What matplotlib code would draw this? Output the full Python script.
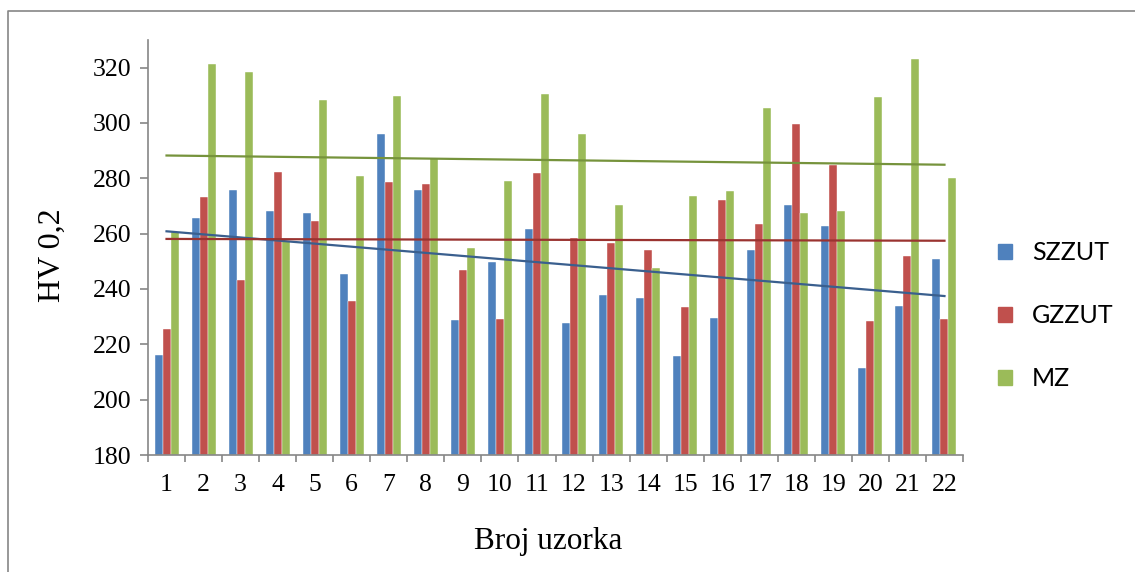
import numpy as np
import matplotlib.pyplot as plt
from matplotlib.lines import Line2D

# sample numbers and hardness values (HV 0,2)
samples = list(range(1, 23))
szzut = [216.2, 265.8, 275.8, 268.1, 267.5, 245.5, 295.9, 275.8, 228.9, 249.6, 261.7,
         227.8, 237.7, 236.7, 215.7, 229.6, 254.0, 270.2, 262.9, 211.3, 234.0, 250.7]
gzzut = [225.6, 273.1, 243.1, 282.4, 264.4, 235.8, 278.7, 277.8, 247.0, 229.1, 281.9,
         258.3, 256.8, 254.0, 233.4, 272.2, 263.5, 299.7, 284.8, 228.6, 251.8, 229.0]
mz = [260.6, 321.3, 318.3, 257.4, 308.3, 281.0, 309.8, 287.2, 254.7, 278.9, 310.6,
      295.9, 270.2, 247.5, 273.5, 275.6, 305.6, 267.4, 268.1, 309.5, 323.3, 280.2]

series = [("SZZUT", szzut, "#4F81BD", "#3A5F8E"),
          ("GZZUT", gzzut, "#C0504D", "#9A3330"),
          ("MZ", mz, "#9BBB59", "#76933C")]

fig = plt.figure(figsize=(11.35, 5.72), dpi=100)
ax = fig.add_axes([148 / 1135, 117 / 572, 815 / 1135, 415 / 572])

x = np.arange(len(samples))
w = 0.216
for i, (name, vals, col, tcol) in enumerate(series):
    ax.bar(x + (i - 1) * w, np.array(vals) - 180, width=w, bottom=180, color=col,
           edgecolor="white", linewidth=0.3, label=name, zorder=2)

# linear trendlines (like Excel's)
for i, (name, vals, col, tcol) in enumerate(series):
    k, b = np.polyfit(samples, vals, 1)
    ax.plot(x, k * np.array(samples) + b, color=tcol, lw=1.6, zorder=3)

ax.set_xlim(-0.5, len(samples) - 0.5)
ax.set_ylim(180, 330)
ax.set_yticks(range(180, 321, 20))
ax.set_xticks(x)
ax.set_xticklabels([str(s) for s in samples])
ax.set_xticks(np.arange(-0.5, len(samples), 1), minor=True)
ax.tick_params(axis="x", which="major", length=0, pad=14)
ax.tick_params(axis="x", which="minor", length=5, color="#868686", width=1.2)
ax.tick_params(axis="y", length=6, color="#868686", width=1.2, pad=6)

for lbl in ax.get_xticklabels():
    lbl.set_fontfamily("Liberation Serif")
    lbl.set_fontsize(18.5)
for lbl in ax.get_yticklabels():
    lbl.set_fontfamily("Liberation Serif")
    lbl.set_fontsize(18.5)

for s in ["top", "right"]:
    ax.spines[s].set_visible(False)
for s in ["left", "bottom"]:
    ax.spines[s].set_color("#868686")
    ax.spines[s].set_linewidth(1.2)

fig.text(52 / 1135, 1 - 255 / 572, "HV 0,2", rotation=90, ha="center", va="center",
         fontfamily="Liberation Serif", fontsize=23)
fig.text(548 / 1135, 1 - 542 / 572, "Broj uzorka", ha="center", va="center",
         fontfamily="Liberation Serif", fontsize=22.5)

handles = [plt.Rectangle((0, 0), 1, 1, color=c) for _, _, c, _ in series]
fig.legend(handles, [n for n, _, _, _ in series], loc="center left",
           bbox_to_anchor=(998 / 1135, 1 - 316 / 572), frameon=False, borderpad=0,
           borderaxespad=0, prop={"family": "Lato", "size": 18}, handlelength=0.55,
           handleheight=0.55, labelspacing=1.6, handletextpad=0.8)

# outer chart border (top and left visible)
fig.add_artist(Line2D([8 / 1135, 8 / 1135, 1], [0, 1 - 11 / 572, 1 - 11 / 572],
                      transform=fig.transFigure, color="#868686", lw=1.2))

fig.savefig("out.png", dpi=100)
